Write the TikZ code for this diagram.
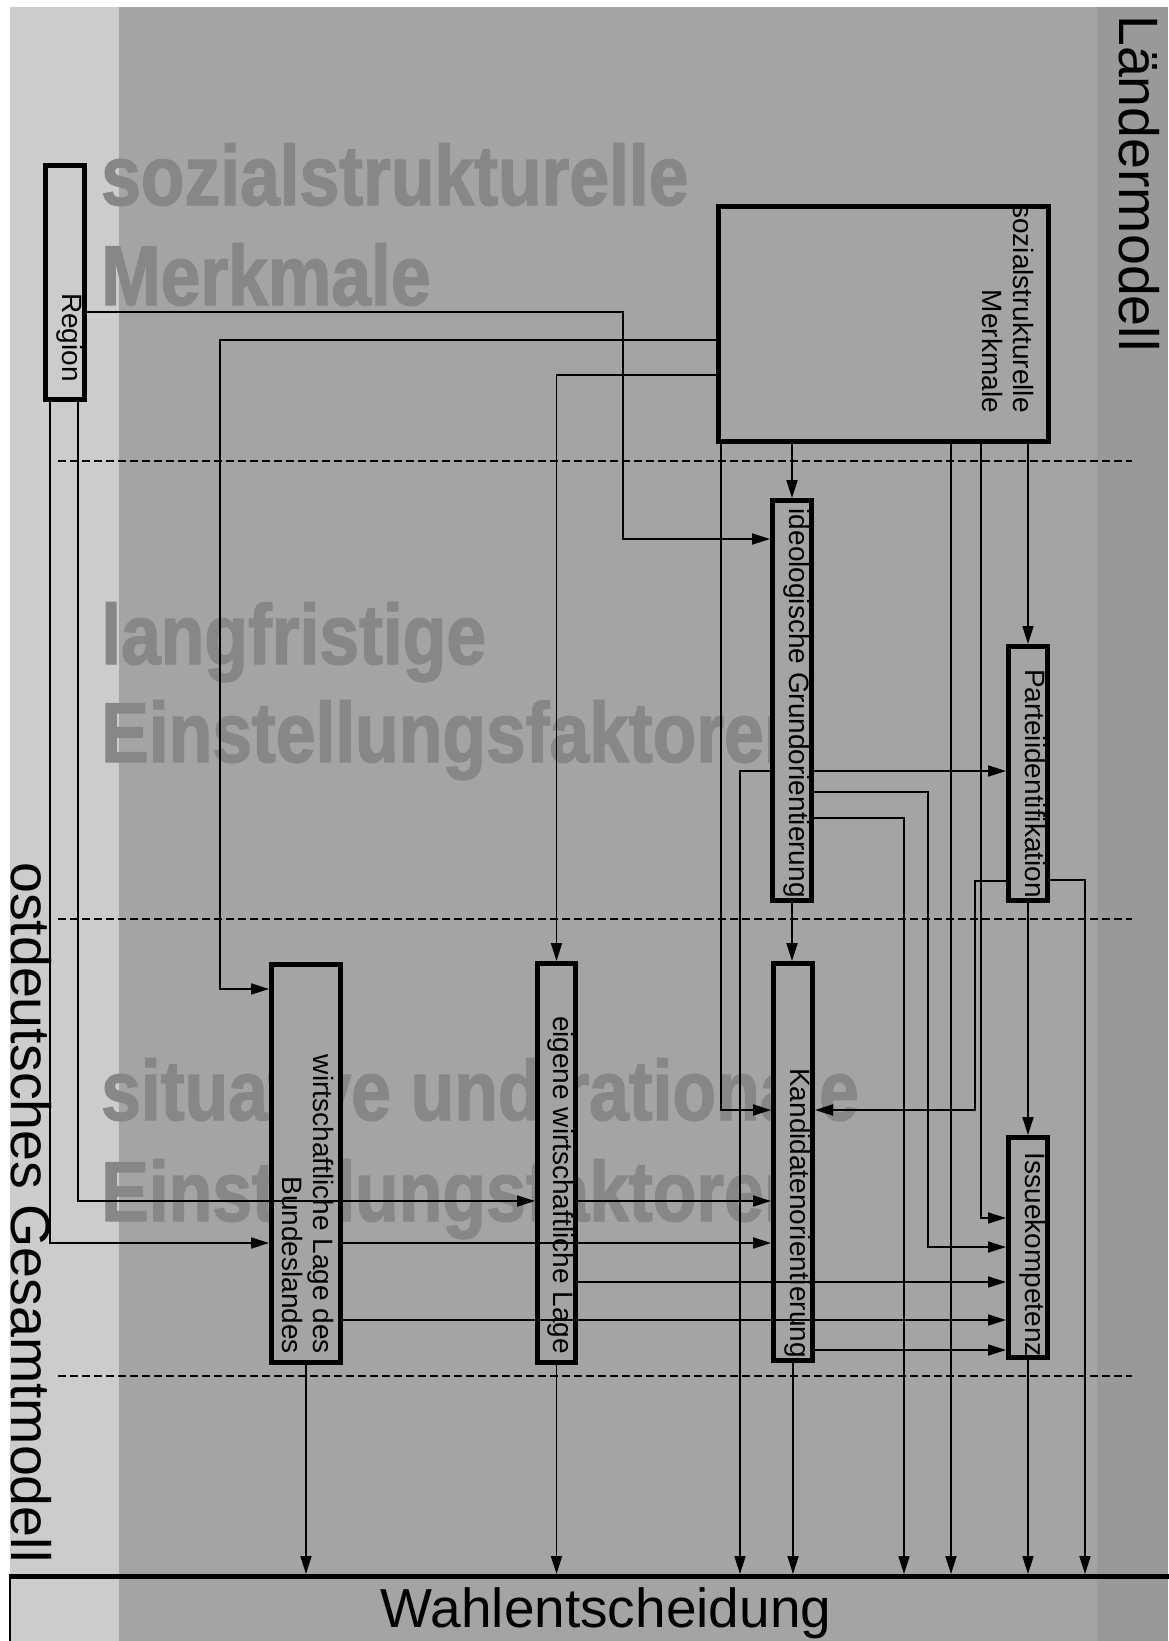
\documentclass[tikz,border=0pt]{standalone}
\usepackage{fontspec}
\setmainfont{Liberation Sans}
\newfontfamily\wmfont[FakeStretch=0.84,FakeBold=1.6]{Liberation Sans}
\usetikzlibrary{arrows.meta}
\definecolor{bgmain}{gray}{0.645}
\definecolor{bgleft}{gray}{0.80}
\definecolor{bgright}{gray}{0.60}
\definecolor{wmark}{gray}{0.53}
\begin{document}
\begin{tikzpicture}[x=1pt,y=-1pt,
  box/.style={draw=black, line width=5pt, fill=bgmain, inner sep=0pt},
  lbl/.style={rotate=-90, inner sep=0pt, font=\fontsize{28}{31.5}\selectfont},
  side/.style={rotate=-90, inner sep=0pt, anchor=base west, font=\fontsize{55.5}{60}\selectfont},
  wm/.style={anchor=base west, inner sep=0pt, text=wmark, font=\wmfont\bfseries\fontsize{85}{90}\selectfont},
  conn/.style={line width=1.9pt, -{Triangle[length=18pt,width=11pt]}},
  dashline/.style={line width=2pt, dash pattern=on 7.5pt off 4.5pt}
]
\useasboundingbox (0,0) rectangle (1168,1641);
% background
\fill[white] (0,0) rectangle (1168,1641);
\fill[bgleft] (10,7) rectangle (119,1641);
\fill[bgmain] (119,7) rectangle (1097,1641);
\fill[bgright] (1097,7) rectangle (1168,1641);

% watermark texts
\node[wm] (w1) at (101,205) {sozialstrukturelle};
\node[wm] (w2) at (101,305) {Merkmale};
\node[wm] (w3) at (101,664) {langfristige};
\node[wm] (w4) at (101,762) {Einstellungsfaktoren};
\node[wm] (w5) at (101,1120) {situative und rationale};
\node[wm] (w6) at (101,1221) {Einstellungsfaktoren};

% side labels
\node[side] (lm) at (1119,15) {Ländermodell};
\node[side] (om) at (11,862) {ostdeutsches Gesamtmodell};

% dashed separators
\draw[dashline] (58,460.5) -- (1132,460.5);
\draw[dashline] (58,919) -- (1132,919);
\draw[dashline] (58,1376) -- (1132,1376);

% boxes
\node[box, fill=bgleft, minimum width=39pt, minimum height=234pt] (R) at (65,282.5) {};
\node[box, minimum width=330pt, minimum height=235pt] (S) at (883.5,324) {};
\node[box, minimum width=39pt, minimum height=400pt] (I) at (792,700.5) {};
\node[box, minimum width=39pt, minimum height=254pt] (P) at (1028,773.5) {};
\node[box, minimum width=69pt, minimum height=398pt] (W) at (306,1163.5) {};
\node[box, minimum width=38pt, minimum height=399pt] (E) at (556.5,1163) {};
\node[box, minimum width=39pt, minimum height=397pt] (K) at (793,1162) {};
\node[box, minimum width=39pt, minimum height=220pt] (Iss) at (1028,1247.5) {};

% box labels
\node[lbl, anchor=mid east] (tR) at (65,382) {Region};
\node[lbl, align=right, anchor=north east] (tS) at (1034,413) {sozialstrukturelle\\Merkmale};
\node[lbl, anchor=mid east] (tI) at (792,898) {ideologische Grundorientierung};
\node[lbl, anchor=mid east] (tP) at (1028,898) {Parteiidentifikation};
\node[lbl, align=right, anchor=north east] (tW) at (334,1354) {wirtschaftliche Lage des\\Bundeslandes};
\node[lbl, anchor=mid east] (tE) at (556.5,1354) {eigene wirtschaftliche Lage};
\node[lbl, anchor=mid east] (tK) at (793,1358) {Kandidatenorientierung};
\node[lbl, anchor=mid east] (tIss) at (1028,1357) {Issuekompetenz};

% Wahlentscheidung
\node[inner sep=0pt, outer sep=0pt, minimum width=1170pt, minimum height=80pt, anchor=north west] (wahl) at (10,1574) {};
\draw[line width=4.5pt] ([yshift=-2.25pt]wahl.north west) -- ([yshift=-2.25pt]wahl.north east);
\draw[line width=1.4pt] (wahl.north west) -- (wahl.south west);
\node[inner sep=0pt, anchor=base, font=\fontsize{55}{60}\selectfont] (wt) at (606,1627) {Wahlentscheidung};

% connectors
\draw[conn] (R.east |- 0,312) -| (623,539) -- (I.west |- 0,539);
\draw[conn] (S.west |- 0,340) -| (220,989) -- (W.west |- 0,989);
\draw[conn] (S.west |- 0,375) -| (E.north);
\draw[conn] (S.south -| 721,0) |- (K.west |- 0,1110);
\draw[conn] (S.south -| I.north) -- (I.north);
\draw[conn] (S.south -| 951,0) -- (wahl.north -| 951,0);
\draw[conn] (S.south -| 981,0) |- (Iss.west |- 0,1218);
\draw[conn] (S.south -| P.north) -- (P.north);
\draw[conn] (R.south -| 50,0) |- (W.west |- 0,1243);
\draw[conn] (R.south -| 78,0) |- (E.west |- 0,1201);
\draw[conn] (W.east |- 0,1243) -- (K.west |- 0,1243);
\draw[conn] (W.east |- 0,1320) -- (Iss.west |- 0,1320);
\draw[conn] (W.south) -- (W.south |- wahl.north);
\draw[conn] (E.east |- 0,1201) -- (K.west |- 0,1201);
\draw[conn] (E.east |- 0,1282) -- (Iss.west |- 0,1282);
\draw[conn] (E.south) -- (E.south |- wahl.north);
\draw[conn] (I.east |- 0,771) -- (P.west |- 0,771);
\draw[conn] (I.west |- 0,771) -| (wahl.north -| 740,0);
\draw[conn] (I.east |- 0,792) -| (928,1247) -- (Iss.west |- 0,1247);
\draw[conn] (I.east |- 0,818) -| (wahl.north -| 904,0);
\draw[conn] (I.south) -- (I.south |- K.north);
\draw[conn] (P.west |- 0,881) -| (975,1110) -- (K.east |- 0,1110);
\draw[conn] (P.east |- 0,880) -| (wahl.north -| 1085,0);
\draw[conn] (P.south) -- (Iss.north);
\draw[conn] (K.east |- 0,1350) -- (Iss.west |- 0,1350);
\draw[conn] (K.south) -- (K.south |- wahl.north);
\draw[conn] (Iss.south) -- (Iss.south |- wahl.north);
\end{tikzpicture}
\end{document}
